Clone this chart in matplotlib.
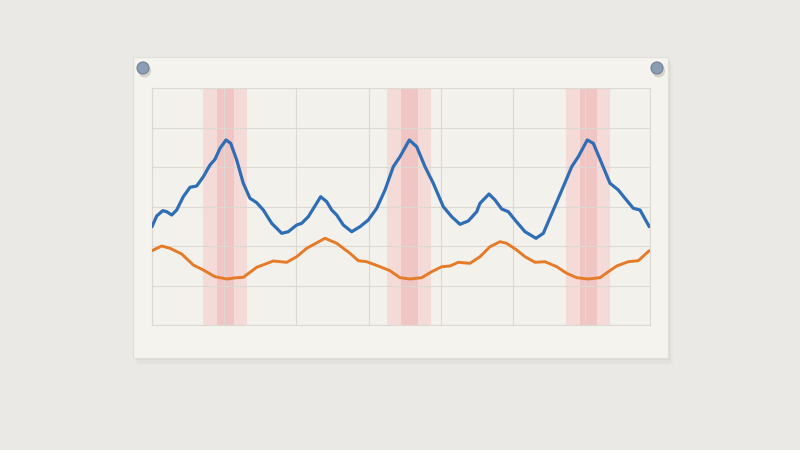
import numpy as np
import matplotlib
matplotlib.use("Agg")
import matplotlib.pyplot as plt
from matplotlib.patches import Rectangle, Ellipse

# blue series (unlabelled chart: x 0..498, y 0..237 units)
blue_x = [0, 4.7, 10.7, 14.7, 19.7, 24.7, 31.3, 38, 44.7, 51.3, 58, 63, 68, 74, 78.7, 84.7,
          91.3, 98, 104.7, 111.3, 119.7, 129.7, 136.3, 144.7, 149.7, 156.3, 168.7, 174.7,
          179.7, 184.7, 191.3, 199.7, 208, 216.3, 224.7, 233, 241.3, 248, 257.3, 264.7, 273,
          281.3, 291.3, 299.7, 308, 316.3, 324.7, 328, 337, 343, 349.7, 356.3, 363, 373, 384,
          391.3, 401.3, 411.3, 419.7, 426.3, 435.3, 441.3, 449.7, 458, 466.3, 473, 481.3, 488,
          497.3]
blue_y = [98.3, 109, 114.3, 113.3, 110, 115, 128.3, 137.7, 139, 148.3, 160, 165.7, 176.7, 185,
          181.7, 165, 141.7, 126.7, 122.3, 115, 101.7, 91.7, 93.3, 100, 101.7, 108.3, 128.3,
          123.3, 115, 110, 100, 93.3, 98.3, 105, 116.7, 135, 158.3, 168.3, 185, 178.3, 158.3,
          141.7, 118.3, 108.3, 100.7, 104, 113.3, 121.7, 131, 125, 116, 113.3, 105, 93.3, 86.7,
          91.7, 115, 138.3, 158.3, 168.3, 185, 181.7, 161.7, 141.7, 135, 126.7, 116.7, 115,
          98.3]

# orange series
orange_x = [0, 9.7, 18, 29.7, 41.3, 51.3, 63, 74.7, 84.7, 91.3, 104.7, 121.3, 134.7, 144.7,
            154.7, 173, 184.7, 198, 206.3, 214.7, 228, 238, 248, 258, 269.7, 279.7, 289.7, 298,
            306.3, 318, 328, 338, 348, 354.7, 364.7, 373, 383, 393, 404.7, 414.7, 424.7, 436.3,
            448, 456.3, 464.7, 476.3, 486.3, 497.3]
orange_y = [74.3, 79, 76.7, 71, 60, 55, 48.3, 46, 47.3, 47.7, 57.7, 64, 62.7, 68.3, 76.7, 86.7,
            81.7, 71.7, 64.3, 63.3, 58.3, 54.3, 47.3, 46, 47.3, 53.3, 58.3, 59, 62.7, 61.7, 68.3,
            78.3, 83.3, 81.7, 75, 68.3, 62.7, 63.3, 58.3, 51.7, 47.3, 46, 47.3, 53.3, 59, 63.3,
            64.3, 74.3]

# highlighted windows (centre positions)
band_centers = [73, 257, 436]

fig = plt.figure(figsize=(8, 4.5), dpi=100)
fig.patch.set_facecolor('#ebe9e5')

# paper sheet with soft shadow (drawn under the axes)
for i, a in enumerate([0.06, 0.045, 0.03]):
    fig.patches.append(Rectangle((0.1663 + 0.002 * (i + 1), 0.2044 - 0.005 * (i + 1)), 0.669, 0.669,
                                 transform=fig.transFigure, facecolor='#8a8478', alpha=a,
                                 edgecolor='none', zorder=-3))
fig.patches.append(Rectangle((0.1663, 0.2044), 0.669, 0.669, transform=fig.transFigure,
                             facecolor='#f5f3ee', edgecolor='#e2dfd8', lw=0.8, zorder=-2))

ax = fig.add_axes([152 / 800, 125 / 450, 498 / 800, 237 / 450])
ax.set_zorder(2)
ax.set_facecolor('#f3f1ec')
ax.set_xlim(0, 498)
ax.set_ylim(0, 237)
ax.set_xticks(np.arange(0, 498, 72.2))
ax.set_yticks(np.linspace(0, 237, 7))
ax.grid(True, color='#dcd9d3', lw=0.8)
ax.tick_params(length=0, labelbottom=False, labelleft=False)
for s in ax.spines.values():
    s.set_color('#dcd9d3')
    s.set_linewidth(0.8)
ax.set_axisbelow(True)

for c in band_centers:
    ax.axvspan(c - 22, c + 22, color='#f5d6d3', alpha=0.8, lw=0, zorder=0.3)
    ax.axvspan(c - 8.5, c + 8.5, color='#eeb8b7', alpha=0.6, lw=0, zorder=0.4)

ax.plot(blue_x, blue_y, color='#2f6db5', lw=2.3, solid_joinstyle='round',
        solid_capstyle='round', zorder=3)
ax.plot(orange_x, orange_y, color='#e57b28', lw=2.1, solid_joinstyle='round',
        solid_capstyle='round', zorder=3)

# pins
for px in [143, 657]:
    fig.patches.append(Ellipse((px / 800 + 0.002, 1 - 71 / 450), 13 / 800, 13 / 450,
                               transform=fig.transFigure, facecolor='#9a978f', alpha=0.35,
                               edgecolor='none', zorder=5))
    fig.patches.append(Ellipse((px / 800, 1 - 68 / 450), 12 / 800, 12 / 450,
                               transform=fig.transFigure, facecolor='#8b9db3',
                               edgecolor='#6f8198', lw=0.8, zorder=6))

fig.savefig('out.png', dpi=100, facecolor=fig.get_facecolor())
